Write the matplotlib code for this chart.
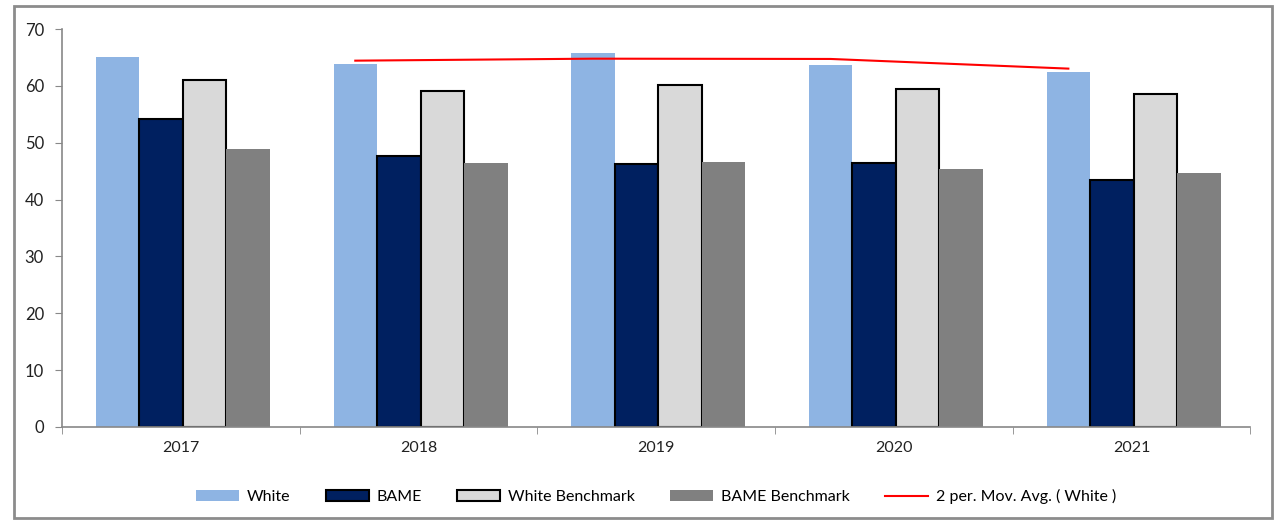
import numpy as np
import matplotlib.pyplot as plt
from matplotlib.patches import Rectangle

plt.rcParams['font.family'] = ['Lato', 'DejaVu Sans']

years = ['2017', '2018', '2019', '2020', '2021']
white = [65.1, 63.8, 65.8, 63.7, 62.4]
bame = [54.2, 47.7, 46.3, 46.4, 43.4]
white_bench = [61.0, 59.1, 60.1, 59.4, 58.6]
bame_bench = [48.9, 46.4, 46.6, 45.4, 44.7]

# 2-period moving average of the White series
white_ma = [(white[i - 1] + white[i]) / 2 for i in range(1, len(white))]

fig = plt.figure(figsize=(12.76, 5.2), dpi=100)
ax = fig.add_axes([0.0486, 0.179, 0.9314, 0.765])

x = np.arange(len(years))
w = 0.183
offsets = np.array([-1.4, -0.4, 0.6, 1.6]) * w - 0.01

ax.bar(x + offsets[0], white, w, color='#8eb4e3', label='White', zorder=2)
ax.bar(x + offsets[1], bame, w, color='#002060', edgecolor='black', linewidth=1.5,
       label='BAME', zorder=2)
ax.bar(x + offsets[2], white_bench, w, color='#d9d9d9', edgecolor='black', linewidth=1.5,
       label='White Benchmark', zorder=2)
ax.bar(x + offsets[3], bame_bench, w, color='#808080', label='BAME Benchmark', zorder=2)
ax.plot(x[1:] + offsets[0], white_ma, color='red', linewidth=1.5,
        label='2 per. Mov. Avg. ( White )', zorder=3)

ax.set_xlim(-0.5, len(years) - 0.5)
ax.set_ylim(0, 70)
ax.set_yticks(range(0, 71, 10))
ax.set_xticks(x)
ax.set_xticklabels(years)
ax.set_xticks(np.arange(-0.5, len(years)), minor=True)
ax.tick_params(axis='x', which='major', length=0, pad=10, labelsize=11.5, colors='#222222')
ax.tick_params(axis='x', which='minor', length=5, color='#888888')
ax.tick_params(axis='y', length=5, color='#888888', labelsize=12, colors='#222222', pad=8)
for s in ['top', 'right']:
    ax.spines[s].set_visible(False)
for s in ['left', 'bottom']:
    ax.spines[s].set_color('#888888')
    ax.spines[s].set_linewidth(1.2)

handles, labels = ax.get_legend_handles_labels()
order = [1, 2, 3, 4, 0]
ax.legend([handles[i] for i in order], [labels[i] for i in order],
          loc='upper center', bbox_to_anchor=(0.5, -0.12), ncol=5, frameon=False,
          fontsize=11.5, handlelength=2.7, handleheight=0.7, columnspacing=2.2,
          handletextpad=0.5)

# outer chart border
fig.patches.append(Rectangle((0.011, 0.003), 0.986, 0.985, transform=fig.transFigure,
                             fill=False, edgecolor='#8c8c8c', linewidth=2))

fig.savefig('out.png', dpi=100)
